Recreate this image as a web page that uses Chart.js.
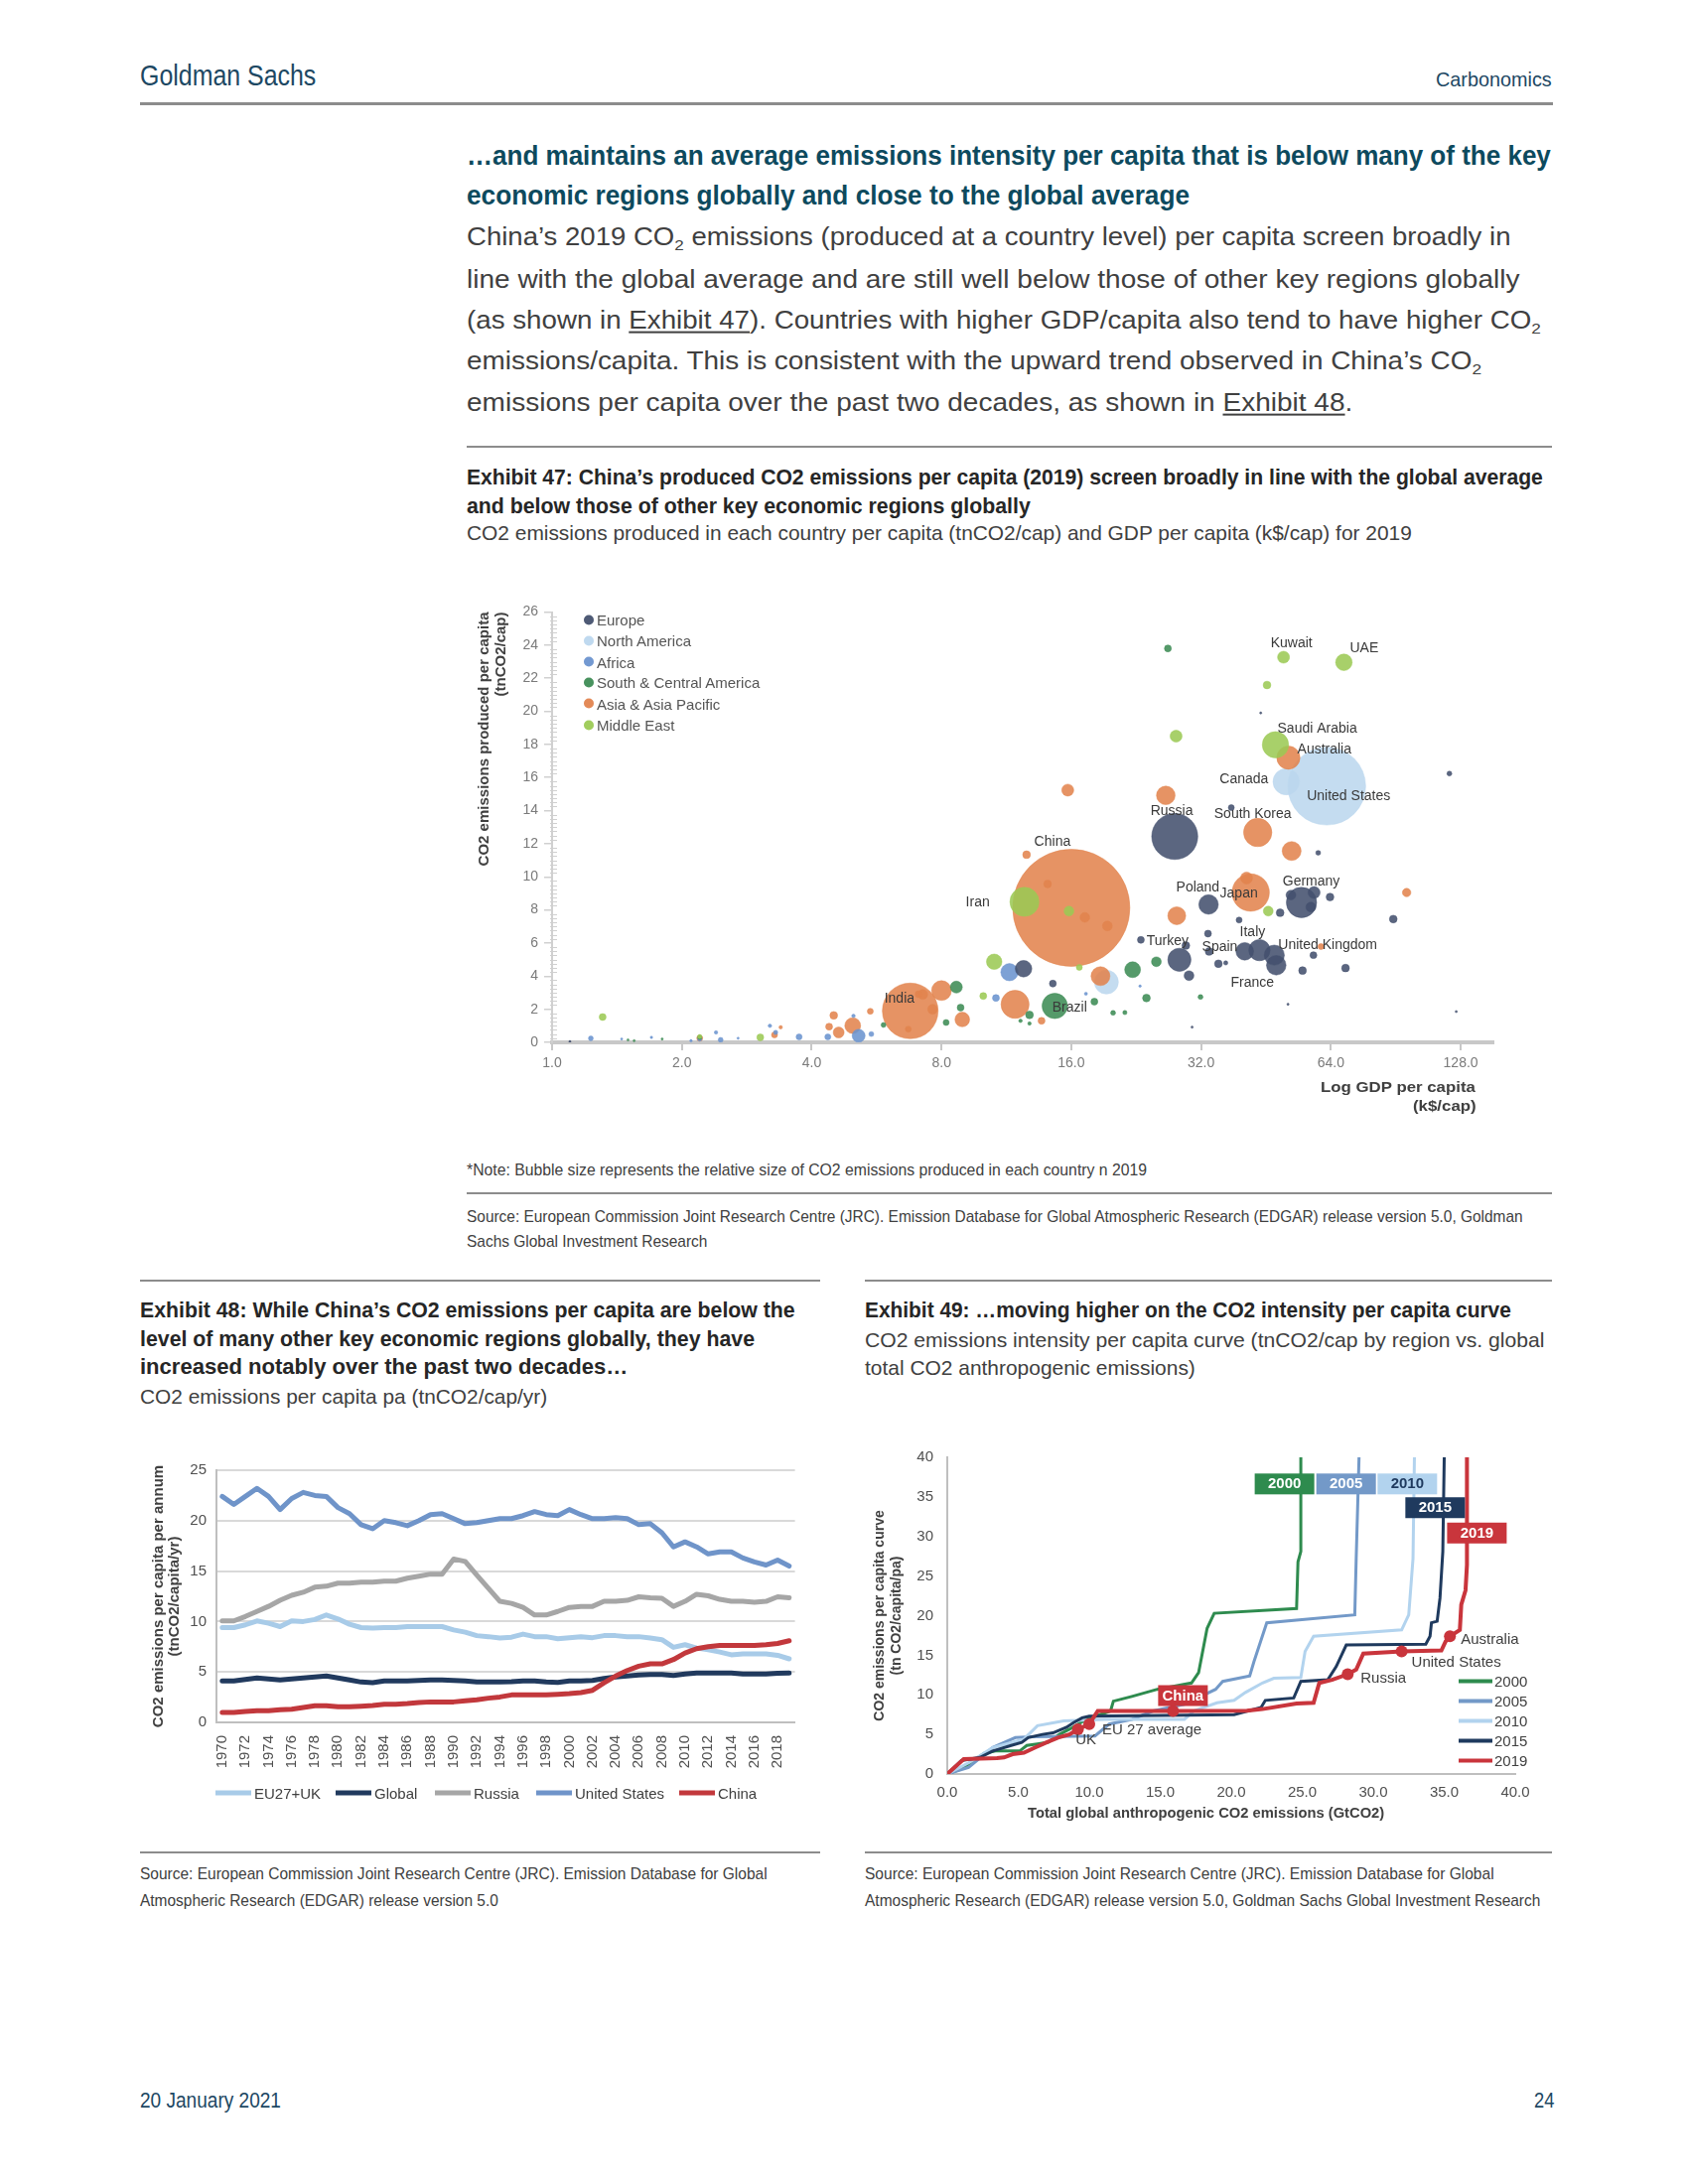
<!DOCTYPE html>
<html><head><meta charset="utf-8">
<script src="https://cdn.jsdelivr.net/npm/chart.js@4.4.1/dist/chart.umd.min.js"></script>
<style>
html,body{margin:0;padding:0;background:#fff;}
#page{position:relative;width:1700px;height:2200px;overflow:hidden;font-family:"Liberation Sans Narrow","Arial Narrow","Liberation Sans",sans-serif;color:#404040;}
.t{position:absolute;white-space:nowrap;line-height:1.15;transform-origin:left center;transform:translateY(-50%);}
.b{font-weight:bold;}
.rule{position:absolute;background:#8c8c8c;}
.cw{position:absolute;}
sub{font-size:0.62em;vertical-align:-0.32em;line-height:0;}
u{text-decoration-thickness:1.5px;text-underline-offset:3px;}
.lg{position:absolute;white-space:nowrap;transform:translateY(-50%);display:flex;align-items:center;}
</style></head>
<body><div id="page">

<!-- header -->
<div class="t" data-w="177" style="left:141px;top:77px;font-size:29px;color:#1d4863">Goldman Sachs</div>
<div class="t" data-w="117" style="left:1446px;top:80px;font-size:21px;color:#1d4863">Carbonomics</div>
<div class="rule" style="left:141px;top:103px;width:1423px;height:3px"></div>

<!-- heading and body -->
<div class="t b" data-w="1092" style="left:470px;top:157px;font-size:28px;color:#0d4a5e">…and maintains an average emissions intensity per capita that is below many of the key</div>
<div class="t b" data-w="728" style="left:470px;top:197px;font-size:28px;color:#0d4a5e">economic regions globally and close to the global average</div>
<div class="t" data-w="1052" style="left:470px;top:238px;font-size:25px;color:#404040">China’s 2019 CO<sub>2</sub> emissions (produced at a country level) per capita screen broadly in</div>
<div class="t" data-w="1060" style="left:470px;top:281px;font-size:25px;color:#404040">line with the global average and are still well below those of other key regions globally</div>
<div class="t" data-w="1082" style="left:470px;top:322px;font-size:25px;color:#404040">(as shown in <u>Exhibit 47</u>). Countries with higher GDP/capita also tend to have higher CO<sub>2</sub></div>
<div class="t" data-w="1022" style="left:470px;top:363px;font-size:25px;color:#404040">emissions/capita. This is consistent with the upward trend observed in China’s CO<sub>2</sub></div>
<div class="t" data-w="892" style="left:470px;top:405px;font-size:25px;color:#404040">emissions per capita over the past two decades, as shown in <u>Exhibit 48</u>.</div>

<!-- exhibit 47 -->
<div class="rule" style="left:470px;top:449px;width:1093px;height:2px"></div>
<div class="t b" data-w="1084" style="left:470px;top:481px;font-size:22px;color:#262626">Exhibit 47: China’s produced CO2 emissions per capita (2019) screen broadly in line with the global average</div>
<div class="t b" data-w="568" style="left:470px;top:510px;font-size:22px;color:#262626">and below those of other key economic regions globally</div>
<div class="t" data-w="952" style="left:470px;top:537px;font-size:21px;color:#404040">CO2 emissions produced in each country per capita (tnCO2/cap) and GDP per capita (k$/cap) for 2019</div>

<div class="cw" style="left:470px;top:557px;width:1093px;height:573px"><canvas id="c47"></canvas></div>
<div id="lg47"></div>
<div class="t b" data-w="156" style="left:1330px;top:1095px;font-size:15px;font-family:'Liberation Sans',Arial,sans-serif;color:#404040">Log GDP per capita</div>
<div class="t b" data-w="64" style="left:1423px;top:1114px;font-size:15px;font-family:'Liberation Sans',Arial,sans-serif;color:#404040">(k$/cap)</div>

<div class="t" data-w="685" style="left:470px;top:1179px;font-size:17px;color:#404040">*Note: Bubble size represents the relative size of CO2 emissions produced in each country n 2019</div>
<div class="rule" style="left:470px;top:1201px;width:1093px;height:1.5px"></div>
<div class="t" data-w="1064" style="left:470px;top:1226px;font-size:17px;color:#404040">Source: European Commission Joint Research Centre (JRC). Emission Database for Global Atmospheric Research (EDGAR) release version 5.0, Goldman</div>
<div class="t" data-w="242" style="left:470px;top:1251px;font-size:17px;color:#404040">Sachs Global Investment Research</div>

<!-- exhibit 48 -->
<div class="rule" style="left:141px;top:1289px;width:685px;height:2px"></div>
<div class="t b" data-w="660" style="left:141px;top:1320px;font-size:22px;color:#262626">Exhibit 48: While China’s CO2 emissions per capita are below the</div>
<div class="t b" data-w="619" style="left:141px;top:1349px;font-size:22px;color:#262626">level of many other key economic regions globally, they have</div>
<div class="t b" data-w="491" style="left:141px;top:1377px;font-size:22px;color:#262626">increased notably over the past two decades…</div>
<div class="t" data-w="410" style="left:141px;top:1407px;font-size:21px;color:#404040">CO2 emissions per capita pa (tnCO2/cap/yr)</div>
<div class="cw" style="left:141px;top:1440px;width:685px;height:360px"><canvas id="c48"></canvas></div>
<div id="lg48"></div>

<!-- exhibit 49 -->
<div class="rule" style="left:871px;top:1289px;width:692px;height:2px"></div>
<div class="t b" data-w="651" style="left:871px;top:1320px;font-size:22px;color:#262626">Exhibit 49: …moving higher on the CO2 intensity per capita curve</div>
<div class="t" data-w="684" style="left:871px;top:1350px;font-size:21px;color:#404040">CO2 emissions intensity per capita curve (tnCO2/cap by region vs. global</div>
<div class="t" data-w="333" style="left:871px;top:1378px;font-size:21px;color:#404040">total CO2 anthropogenic emissions)</div>
<div class="cw" style="left:871px;top:1440px;width:692px;height:400px"><canvas id="c49"></canvas></div>
<div id="lg49"></div>
<div class="t b" data-w="359" style="left:1035px;top:1826px;font-size:14px;font-family:'Liberation Sans',Arial,sans-serif;color:#404040">Total global anthropogenic CO2 emissions (GtCO2)</div>

<!-- bottom sources -->
<div class="rule" style="left:141px;top:1865px;width:685px;height:1.5px"></div>
<div class="rule" style="left:871px;top:1865px;width:692px;height:1.5px"></div>
<div class="t" data-w="632" style="left:141px;top:1888px;font-size:17px;color:#404040">Source: European Commission Joint Research Centre (JRC). Emission Database for Global</div>
<div class="t" data-w="361" style="left:141px;top:1915px;font-size:17px;color:#404040">Atmospheric Research (EDGAR) release version 5.0</div>
<div class="t" data-w="634" style="left:871px;top:1888px;font-size:17px;color:#404040">Source: European Commission Joint Research Centre (JRC). Emission Database for Global</div>
<div class="t" data-w="680" style="left:871px;top:1915px;font-size:17px;color:#404040">Atmospheric Research (EDGAR) release version 5.0, Goldman Sachs Global Investment Research</div>

<!-- footer -->
<div class="t" data-w="142" style="left:141px;top:2116px;font-size:22px;color:#1d4863">20 January 2021</div>
<div class="t" data-w="20" style="left:1545px;top:2116px;font-size:22px;color:#1d4863">24</div>
</div>

<script>
// ================= Exhibit 47 data =================
// [GDP per capita (k$/cap), CO2 per capita (tnCO2/cap), total CO2 (GtCO2), label]
const gdpTicks = [1, 2, 4, 8, 16, 32, 64, 128];
const europe = [
 [27.8,12.44,1.78,'Russia'],[54.7,8.45,0.77,'Germany'],[28.5,4.99,0.45,'Turkey'],[43.7,5.57,0.38,'Italy'],
 [47.3,5.27,0.34,'United Kingdom'],[33.3,8.33,0.32,'Poland'],[47.8,4.66,0.32,'France'],[40.4,5.5,0.26,'Spain'],
 [12.4,4.45,0.23,''],[58.5,9.05,0.12,''],[51.7,8.9,0.08,''],[57.5,8.17,0.08,''],[30.0,4.03,0.08,''],
 [63.7,8.78,0.05,''],[89.3,7.45,0.05,''],[48.8,7.83,0.05,''],[29.5,5.85,0.05,''],[55.0,4.34,0.05,''],
 [69.2,4.49,0.05,''],[33.4,5.49,0.05,''],[35.1,4.75,0.05,''],[23.2,6.19,0.04,''],[33.2,6.57,0.04,''],
 [58.3,5.27,0.04,''],[14.5,3.55,0.04,''],[39.2,7.39,0.03,''],[37.6,14.18,0.03,''],[120.5,16.24,0.02,''],
 [59.8,11.45,0.02,''],[36.5,4.8,0.015,''],[30.5,0.92,0.004,''],[44.0,19.9,0.004,''],[125,1.86,0.003,''],
 [50.9,2.3,0.003,''],[1.1,0.05,0.003,'']
];
const northAmerica = [
 [62.6,15.48,5.08,'United States'],[50.4,15.75,0.58,'Canada'],[19.3,3.64,0.48,'']
];
const africa = [
 [11.5,4.24,0.25,''],[5.14,0.4,0.14,''],[10.7,2.68,0.04,''],[4.36,0.33,0.03,''],[3.74,0.33,0.03,''],
 [5.5,0.5,0.02,''],[2.46,0.15,0.02,''],[1.23,0.24,0.02,''],[2.2,0.2,0.015,''],[3.3,0.6,0.015,''],
 [5.0,1.6,0.01,''],[3.2,1.0,0.01,''],[2.4,0.6,0.01,''],[17.3,2.94,0.008,''],[23.1,3.4,0.005,''],
 [1.7,0.3,0.005,''],[2.1,0.1,0.005,''],[1.45,0.2,0.004,''],[2.7,0.25,0.004,'']
];
const southCentralAmerica = [
 [14.65,2.2,0.54,'Brazil'],[22.2,4.39,0.21,''],[8.66,3.34,0.12,''],[25.2,4.87,0.08,''],[23.9,2.68,0.05,''],
 [12.8,1.66,0.05,''],[26.8,23.8,0.04,''],[18.1,2.46,0.04,''],[8.86,2.1,0.04,''],[8.2,1.2,0.03,''],
 [31.9,2.74,0.02,''],[20.0,1.78,0.02,''],[5.87,1.05,0.02,''],[21.3,1.8,0.015,''],[2.2,0.3,0.015,''],
 [12.2,1.3,0.01,''],[12.8,1.14,0.01,''],[1.5,0.15,0.003,''],[1.55,0.1,0.003,''],[1.8,0.2,0.003,'']
];
const asiaPacific = [
 [16.0,8.13,11.5,'China'],[6.77,1.90,2.6,'India'],[41.7,9.05,1.17,'Japan'],[43.3,12.68,0.67,'South Korea'],
 [11.85,2.30,0.66,''],[51.0,17.2,0.45,'Australia'],[8.0,3.13,0.33,''],[18.7,4.0,0.30,''],[51.9,11.56,0.30,''],
 [26.5,14.92,0.29,''],[28.1,7.65,0.27,''],[4.98,1.01,0.21,''],[8.94,1.38,0.18,''],[15.7,15.24,0.12,''],
 [40.8,9.93,0.12,''],[4.62,0.6,0.1,''],[17.2,7.55,0.08,''],[19.4,7.03,0.08,''],[7.24,2.9,0.08,''],
 [7.63,2.0,0.08,''],[95.9,9.05,0.06,''],[12.6,11.34,0.05,''],[14.1,9.57,0.05,''],[4.5,1.63,0.05,''],
 [13.65,1.3,0.04,''],[4.39,0.95,0.04,''],[7.08,2.91,0.04,''],[6.7,0.8,0.03,''],[60.7,5.79,0.03,''],
 [5.47,1.88,0.03,''],[3.28,0.45,0.03,''],[2.2,0.25,0.03,''],[3.39,0.91,0.01,'']
];
const middleEast = [
 [12.46,8.49,0.71,'Iran'],[47.6,17.98,0.58,'Saudi Arabia'],[68.6,22.96,0.23,'UAE'],[10.6,4.87,0.2,''],
 [49.7,23.27,0.12,'Kuwait'],[28.0,18.5,0.12,''],[15.8,7.93,0.08,''],[45.8,7.93,0.08,''],[45.5,21.59,0.05,''],
 [10.0,2.8,0.04,''],[1.31,1.53,0.04,''],[3.04,0.3,0.04,''],[16.7,4.53,0.03,''],[2.2,0.35,0.015,'']
];

// ================= Exhibit 48 data =================
const years = [1970,1971,1972,1973,1974,1975,1976,1977,1978,1979,1980,1981,1982,1983,1984,1985,1986,1987,1988,1989,
 1990,1991,1992,1993,1994,1995,1996,1997,1998,1999,2000,2001,2002,2003,2004,2005,2006,2007,2008,2009,
 2010,2011,2012,2013,2014,2015,2016,2017,2018,2019];
const eu27uk = [9.4,9.4,9.67,10.06,9.83,9.5,10.06,10.0,10.2,10.65,10.26,9.73,9.4,9.34,9.4,9.4,9.5,9.5,9.5,9.5,
 9.17,8.94,8.6,8.5,8.36,8.45,8.75,8.5,8.5,8.3,8.4,8.5,8.4,8.6,8.6,8.5,8.5,8.36,8.2,7.44,
 7.7,7.37,7.2,6.98,6.7,6.8,6.8,6.8,6.65,6.3];
const globalAvg = [4.1,4.1,4.26,4.4,4.3,4.2,4.3,4.4,4.5,4.6,4.4,4.2,4.0,3.93,4.1,4.1,4.1,4.16,4.2,4.2,
 4.16,4.1,4.0,4.0,4.0,4.03,4.1,4.1,4.0,3.96,4.1,4.1,4.16,4.36,4.5,4.6,4.7,4.75,4.75,4.65,
 4.8,4.9,4.9,4.9,4.9,4.8,4.8,4.8,4.88,4.9];
const russia = [10.06,10.06,10.5,11.0,11.5,12.1,12.6,12.9,13.4,13.5,13.8,13.8,13.9,13.9,14.0,14.0,14.3,14.5,14.7,14.7,
 16.2,15.96,14.6,13.3,12.0,11.8,11.4,10.65,10.65,11.0,11.4,11.5,11.5,12.0,12.0,12.1,12.45,12.35,12.3,11.5,
 12.0,12.7,12.55,12.2,12.0,12.0,11.9,12.0,12.45,12.35];
const unitedStates = [22.4,21.6,22.4,23.2,22.4,21.1,22.2,22.8,22.5,22.4,21.3,20.7,19.6,19.2,20.0,19.8,19.5,20.0,20.6,20.7,
 20.2,19.7,19.8,20.0,20.2,20.2,20.5,20.9,20.6,20.5,21.1,20.6,20.2,20.2,20.3,20.2,19.6,19.7,18.8,17.4,
 17.9,17.4,16.7,16.9,16.9,16.3,15.9,15.6,16.1,15.5];
const china = [0.98,0.98,1.08,1.15,1.15,1.25,1.3,1.47,1.64,1.64,1.54,1.54,1.6,1.67,1.8,1.8,1.87,1.97,2.03,2.03,
 2.03,2.13,2.23,2.4,2.52,2.72,2.72,2.72,2.72,2.79,2.85,2.95,3.18,3.93,4.59,5.14,5.57,5.8,5.8,6.23,
 6.88,7.31,7.5,7.63,7.63,7.63,7.63,7.7,7.83,8.09];

// ================= Exhibit 49 data =================
// [cumulative global CO2 (GtCO2), CO2 per capita (tnCO2/cap)]
const curve2000 = [[0,0],[1.0,0.63],[2.6,2.6],[3.4,2.9],[5.1,2.9],[5.6,3.6],[6.35,3.8],[7.1,4.0],[7.9,5.0],[8.6,5.65],
 [9.8,6.9],[11.5,7.96],[11.7,9.2],[13.0,9.8],[14.8,10.7],[17.2,11.5],[17.7,12.8],[18.3,18.4],[18.8,20.3],
 [24.6,20.9],[24.7,26.8],[24.9,28.1],[24.9,40]];
const curve2005 = [[0,0],[1.5,0.84],[3.2,3.35],[4.8,4.6],[6.0,4.7],[10.4,4.8],[11.4,6.3],[13.0,6.9],[14.5,7.96],
 [16.7,8.8],[18.9,10.7],[19.4,11.7],[21.3,12.4],[21.6,14.2],[22.5,19.1],[28.7,20.1],[28.8,27.2],[29.0,40]];
const curve2010 = [[0,0],[1.6,1.5],[3.2,3.35],[5.4,4.4],[6.35,6.1],[8.2,6.7],[11.1,6.9],[16.7,6.9],[17.4,8.0],
 [19.0,9.0],[20.2,9.3],[21.0,10.3],[22.2,11.5],[23.0,12.1],[24.9,12.2],[25.2,15.5],[25.8,17.4],[32.0,18.2],
 [32.5,20.1],[32.8,27.2],[32.9,40]];
const curve2015 = [[0,0],[1.0,1.7],[2.3,2.1],[3.2,2.9],[4.5,3.6],[5.25,4.0],[5.7,4.6],[6.7,5.0],[7.45,5.2],[8.4,5.9],
 [8.9,6.5],[9.5,7.1],[10.0,7.3],[20.2,7.5],[22.1,8.4],[22.4,9.3],[24.4,9.6],[24.9,11.7],[26.8,11.9],[27.4,13.6],
 [28.1,16.3],[33.7,16.4],[34.0,17.4],[34.1,19.1],[34.5,19.3],[34.7,22.2],[34.9,28.1],[35.0,40]];
const curve2019 = [[0,0],[1.16,1.88],[3.5,2.0],[4.0,2.1],[4.6,2.5],[5.4,2.7],[6.2,3.35],[7.0,4.0],[7.8,4.6],[8.6,5.0],
 [9.2,5.65],[10.0,6.3],[10.6,7.96],[15.9,7.96],[21.1,8.0],[22.2,8.2],[24.6,8.9],[25.8,9.0],[26.2,11.5],[27.1,11.9],
 [28.2,12.6],[28.8,13.2],[29.3,15.2],[32.0,15.5],[34.8,15.6],[35.1,16.75],[35.4,17.4],[36.1,18.2],[36.2,21.4],
 [36.5,23.2],[36.6,26.4],[36.6,40]];
const markers2019 = [['UK',9.2,5.65],['EU 27 average',10.0,6.3],['China',15.9,7.96],['Russia',28.2,12.6],
 ['United States',32.0,15.5],['Australia',35.4,17.4]];
const yearTags = [['2000',23.75,36.7],['2005',28.09,36.7],['2010',32.4,36.7],['2015',34.36,33.7],['2019',37.3,30.5]];
</script>

<script>
const SANS = '"Liberation Sans", Arial, sans-serif';
const NARROW = '"Liberation Sans Narrow", "Arial Narrow", "Liberation Sans", sans-serif';
Chart.defaults.font.family = SANS;
Chart.defaults.animation = false;

// ---------- Exhibit 47 : bubble ----------
const regionStyle = [
 {label:'Europe', rows:europe, color:'#44516e', order:1},
 {label:'North America', rows:northAmerica, color:'#bcd7ee', order:6},
 {label:'Africa', rows:africa, color:'#6b94cf', order:4},
 {label:'South & Central America', rows:southCentralAmerica, color:'#3e8c55', order:3},
 {label:'Asia & Asia Pacific', rows:asiaPacific, color:'#e2844f', order:5},
 {label:'Middle East', rows:middleEast, color:'#9cca55', order:2}
];
function hexA(h,a){const n=parseInt(h.slice(1),16);return `rgba(${n>>16},${(n>>8)&255},${n&255},${a})`;}
const bubbleLabelStyle = {
 'Kuwait':{dx:8,dy:-14,a:'center'},'UAE':{dx:6,dy:-14,a:'left'},'Saudi Arabia':{dx:2,dy:-16,a:'left'},
 'Australia':{dx:9,dy:-8,a:'left'},'Canada':{dx:-18,dy:-2,a:'right'},'United States':{dx:-20,dy:10,a:'left'},
 'Russia':{dx:-3,dy:-25,a:'center'},'South Korea':{dx:-5,dy:-18,a:'center'},'China':{dx:-19,dy:-66,a:'center'},
 'Iran':{dx:-35,dy:1,a:'right'},'Poland':{dx:11,dy:-17,a:'right'},'Japan':{dx:-31,dy:1,a:'left'},
 'Germany':{dx:-19,dy:-21,a:'left'},'Italy':{dx:-7,dy:-18,a:'center'},'Turkey':{dx:-33,dy:-19,a:'left'},
 'Spain':{dx:-43,dy:-4,a:'left'},'United Kingdom':{dx:4,dy:-10,a:'left'},'France':{dx:-24,dy:18,a:'center'},
 'India':{dx:-26,dy:-12,a:'left'},'Brazil':{dx:15,dy:2,a:'center'}
};
const bubbleLabels = {id:'bubbleLabels', afterDatasetsDraw(chart){
  const ctx=chart.ctx; ctx.save(); ctx.font='14px '+SANS; ctx.fillStyle='#3a3a3a'; ctx.textBaseline='middle';
  chart.data.datasets.forEach((ds,di)=>{const meta=chart.getDatasetMeta(di);
    ds.data.forEach((p,i)=>{const st=bubbleLabelStyle[p.name]; if(!st) return; const el=meta.data[i];
      ctx.textAlign=st.a; ctx.fillText(p.name, el.x+st.dx, el.y+st.dy);});});
  ctx.restore();}};
const minorTicks = {id:'minorTicks', afterDraw(chart){
  const ctx=chart.ctx, y=chart.scales.y, x0=chart.chartArea.left; ctx.save(); ctx.strokeStyle='#d0d0d0'; ctx.lineWidth=1;
  ctx.beginPath();
  for(let k=0;k<=104;k++){ if(k%8===0) continue; const py=Math.round(y.getPixelForValue(k*0.25))+0.5; ctx.moveTo(x0-2,py); ctx.lineTo(x0+5,py);}
  ctx.stroke(); ctx.restore();}};

const c47 = new Chart(document.getElementById('c47'), {
  type:'bubble',
  data:{datasets: regionStyle.map(r=>({
    label:r.label, order:r.order,
    data: r.rows.slice().sort((a,b)=>b[2]-a[2]).map(([gdp,co2,gt,name])=>({x:gdp,y:co2,r:Math.max(1.1,59*Math.sqrt(gt/11.5)),name})),
    backgroundColor:hexA(r.color,0.88), borderColor:hexA(r.color,0.95), borderWidth:0.5, hoverRadius:0
  }))},
  options:{responsive:true, maintainAspectRatio:false, animation:false, events:[],
    layout:{padding:{top:0,right:57,left:0,bottom:0}},
    plugins:{legend:{display:false}, tooltip:{enabled:false}},
    scales:{
      x:{type:'logarithmic', min:1, max:152,
         afterBuildTicks:s=>{s.ticks=gdpTicks.map(v=>({value:v}));},
         ticks:{autoSkip:false, maxRotation:0, padding:5, color:'#7a7a7a', font:{size:14, family:SANS}, callback:v=>Number(v).toFixed(1)},
         grid:{drawOnChartArea:false, drawTicks:true, tickLength:8, color:'#c8c8c8', lineWidth:2},
         border:{color:'#c8c8c8', width:4},
         afterFit:s=>{s.height=80;}},
      y:{min:0, max:26, ticks:{stepSize:2, padding:6, color:'#7a7a7a', font:{size:14, family:SANS}},
         grid:{drawOnChartArea:false, drawTicks:true, tickLength:8, color:'#d0d0d0', lineWidth:1.5},
         border:{color:'#d0d0d0', width:2},
         title:{display:true, align:'end', text:['CO2 emissions produced per capita','(tnCO2/cap)'], color:'#404040',
                font:{size:15, weight:'bold', family:SANS, lineHeight:1.15}, padding:{top:9,bottom:0}},
         afterFit:s=>{s.width=86;}}
    }},
  plugins:[bubbleLabels, minorTicks]
});
// legend 47
(function(){const host=document.getElementById('lg47'); const rowsY=[624,645,666.5,687,708.5,730];
  c47.data.datasets.forEach((ds,i)=>{const d=document.createElement('div'); d.className='lg';
    d.style.cssText=`left:588px;top:${rowsY[i]}px;font:15px ${SANS};color:#555`;
    d.innerHTML=`<span style="display:inline-block;width:10px;height:10px;border-radius:50%;background:${ds.borderColor};margin-right:3px"></span>${ds.label}`;
    host.appendChild(d);});})();

// ---------- Exhibit 48 : lines ----------
const c48 = new Chart(document.getElementById('c48'), {
  type:'line',
  data:{labels:years, datasets:[
    {label:'EU27+UK', data:eu27uk, borderColor:'#a8cbe8', order:3},
    {label:'Global', data:globalAvg, borderColor:'#213a5e', order:2},
    {label:'Russia', data:russia, borderColor:'#a6a6a6', order:5},
    {label:'United States', data:unitedStates, borderColor:'#6f94c9', order:4},
    {label:'China', data:china, borderColor:'#c2383c', order:1}
  ]},
  options:{responsive:true, maintainAspectRatio:false, animation:false, events:[],
    layout:{padding:{top:41,right:21,left:0,bottom:0}},
    elements:{point:{radius:0}, line:{borderWidth:5, tension:0, borderCapStyle:'round', borderJoinStyle:'round'}},
    plugins:{legend:{display:false}, tooltip:{enabled:false}},
    scales:{
      x:{offset:true, grid:{display:false, drawTicks:false}, border:{color:'#bfbfbf', width:2},
         ticks:{autoSkip:false, maxRotation:90, minRotation:90, padding:13, color:'#505050', font:{size:15, family:NARROW},
                callback:function(v,i){return i%2===0 ? String(this.getLabelForValue(v)) : '';}},
         afterFit:s=>{s.height=65;}},
      y:{min:0, max:25, ticks:{stepSize:5, padding:10, color:'#505050', font:{size:15, family:NARROW}},
         grid:{color:'#d9d9d9', lineWidth:2, drawTicks:false}, border:{color:'#bfbfbf', width:2},
         title:{display:true, text:['CO2 emissions per capita per annum','(tnCO2/capita/yr)'], color:'#404040',
                font:{size:15, weight:'bold', family:SANS, lineHeight:1.12}, padding:{top:10,bottom:0}},
         afterFit:s=>{s.width=77;}}
    }}
});
(function(){const host=document.getElementById('lg48'); const xs=[217,338,438,540,684];
  c48.data.datasets.forEach((ds,i)=>{const d=document.createElement('div'); d.className='lg';
    d.style.cssText=`left:${xs[i]}px;top:1806px;font:15px ${NARROW};color:#404040`;
    d.innerHTML=`<span style="display:inline-block;width:36px;height:5px;background:${ds.borderColor};margin-right:3px"></span>${ds.label}`;
    host.appendChild(d);});})();

// ---------- Exhibit 49 : intensity curves ----------
const markerLabelStyle = {
 'UK':{dx:8,dy:11,a:'center'},'EU 27 average':{dx:13,dy:6,a:'left'},'China':{dx:10,dy:-16,a:'box'},
 'Russia':{dx:13,dy:4,a:'left'},'United States':{dx:10,dy:11,a:'left'},'Australia':{dx:11,dy:4,a:'left'}
};
const tagColors = {'2000':['#2e8b4e','#fff'],'2005':['#7399c8','#fff'],'2010':['#b2d3ee','#1f3a5e'],'2015':['#1f3a5e','#fff'],'2019':['#c9353c','#fff']};
const curveAnnotations = {id:'curveAnnotations', afterDatasetsDraw(chart){
  const ctx=chart.ctx, xs=chart.scales.x, ys=chart.scales.y; ctx.save(); ctx.textBaseline='middle';
  yearTags.forEach(([t,x,y])=>{const px=xs.getPixelForValue(x), py=ys.getPixelForValue(y); const [bg,fg]=tagColors[t];
    ctx.fillStyle=bg; ctx.fillRect(px-30,py-10,60,21); ctx.fillStyle=fg; ctx.font='bold 15px '+NARROW; ctx.textAlign='center'; ctx.fillText(t,px,py+1);});
  const meta=chart.getDatasetMeta(chart.data.datasets.length-1);
  chart.data.datasets[chart.data.datasets.length-1].data.forEach((p,i)=>{const st=markerLabelStyle[p.name]; if(!st) return; const el=meta.data[i];
    const px=el.x+st.dx, py=el.y+st.dy;
    if(st.a==='box'){ctx.fillStyle='#c9353c'; ctx.fillRect(px-25,py-10,50,21); ctx.fillStyle='#fff'; ctx.font='bold 15px '+NARROW; ctx.textAlign='center'; ctx.fillText(p.name,px,py+1);}
    else{ctx.fillStyle='#404040'; ctx.font='15px '+NARROW; ctx.textAlign=st.a; ctx.fillText(p.name,px,py);}});
  ctx.restore();}};
const curveStyle = [['2000',curve2000,'#2e8b4e',5,3],['2005',curve2005,'#7399c8',4,3],['2010',curve2010,'#b2d3ee',3,3],['2015',curve2015,'#1f3a5e',2,3],['2019',curve2019,'#c9353c',1,4]];
const c49 = new Chart(document.getElementById('c49'), {
  type:'scatter',
  data:{datasets:[
    ...curveStyle.map(([lab,pts,col,ord,w])=>({label:lab, data:pts.map(([x,y])=>({x,y})), showLine:true, borderColor:col, backgroundColor:col,
       borderWidth:w, pointRadius:0, order:ord, tension:0})),
    {label:'markers', data:markers2019.map(([name,x,y])=>({x,y,name})), showLine:false, pointRadius:6, backgroundColor:'#c9353c', borderWidth:0, order:0}
  ]},
  options:{responsive:true, maintainAspectRatio:false, animation:false, events:[],
    layout:{padding:{top:28,right:37,left:0,bottom:0}},
    plugins:{legend:{display:false}, tooltip:{enabled:false}},
    scales:{
      x:{type:'linear', min:0, max:40, ticks:{stepSize:5, padding:10, color:'#505050', font:{size:15, family:NARROW}, callback:v=>Number(v).toFixed(1)},
         grid:{display:false, drawTicks:false}, border:{color:'#bfbfbf', width:2}, afterFit:s=>{s.height=53;}},
      y:{min:0, max:40, ticks:{stepSize:5, padding:14, color:'#505050', font:{size:15, family:NARROW}},
         grid:{display:false, drawTicks:false}, border:{color:'#bfbfbf', width:2},
         title:{display:true, text:['CO2 emissions per capita curve','(tn CO2/capita/pa)'], color:'#404040',
                font:{size:14, weight:'bold', family:SANS, lineHeight:1.2}, padding:{top:7,bottom:0}},
         afterFit:s=>{s.width=83;}}
    }},
  plugins:[curveAnnotations]
});
(function(){const host=document.getElementById('lg49'); const ys=[1693,1713,1733,1753,1773];
  c49.data.datasets.slice(0,5).forEach((ds,i)=>{const d=document.createElement('div'); d.className='lg';
    d.style.cssText=`left:1469px;top:${ys[i]}px;font:15px ${NARROW};color:#404040`;
    d.innerHTML=`<span style="display:inline-block;width:34px;height:4px;background:${ds.borderColor};margin-right:2px"></span>${ds.label}`;
    host.appendChild(d);});})();

// ---------- fit page text widths ----------
function fitText(){document.querySelectorAll('[data-w]').forEach(el=>{
  const s=parseFloat(el.dataset.w)/el.offsetWidth; el.style.transform=`translateY(-50%) scaleX(${s})`;});}
fitText();
if(document.fonts&&document.fonts.ready){document.fonts.ready.then(fitText);}
</script>
</body></html>
